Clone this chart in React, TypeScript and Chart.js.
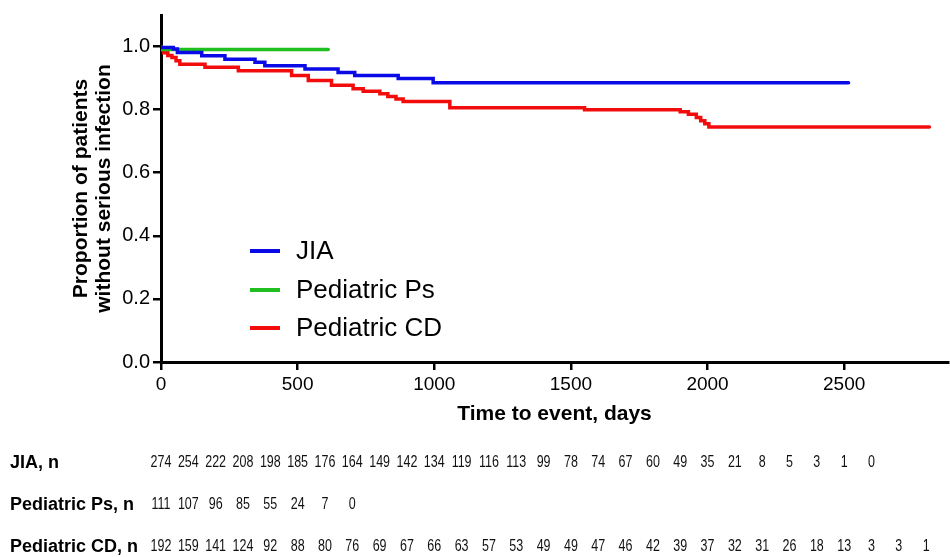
import React, { useEffect, useRef } from 'react';
import { Chart, registerables } from 'chart.js';
Chart.register(...registerables);

// Kaplan-Meier curves (days, proportion without serious infection)
const jiaDays = [0, 45, 60, 149, 234, 344, 380, 527, 648, 709, 868, 996, 1751, 2516];
const jiaSurv = [1.0, 0.997, 0.992, 0.981, 0.971, 0.96, 0.95, 0.939, 0.929, 0.918, 0.908, 0.899, 0.885, 0.885];
const psDays = [0, 15, 612];
const psSurv = [1.0, 0.991, 0.991];
const cdDays = [0, 10, 25, 40, 55, 69, 161, 283, 478, 539, 624, 703, 740, 801, 830, 860, 886, 1057, 1550, 1900, 1930, 1959, 1975, 1990, 2005, 2020, 2812];
const cdSurv = [1.0, 0.99, 0.98, 0.972, 0.965, 0.955, 0.944, 0.934, 0.923, 0.908, 0.892, 0.877, 0.866, 0.858, 0.85, 0.842, 0.834, 0.826, 0.806, 0.8, 0.793, 0.785, 0.775, 0.765, 0.755, 0.745, 0.745];

const seriesLabels = ['JIA', 'Pediatric Ps', 'Pediatric CD'];
const seriesColors = ['#0a0ae6', '#1fbf1f', '#f20c0c'];

const xTickValues = [0, 500, 1000, 1500, 2000, 2500];

// Numbers at risk every 100 days
const riskInterval = 100;
const riskLabels = ['JIA, n', 'Pediatric Ps, n', 'Pediatric CD, n'];
const jiaRisk = [274, 254, 222, 208, 198, 185, 176, 164, 149, 142, 134, 119, 116, 113, 99, 78, 74, 67, 60, 49, 35, 21, 8, 5, 3, 1, 0];
const psRisk = [111, 107, 96, 85, 55, 24, 7, 0];
const cdRisk = [192, 159, 141, 124, 92, 88, 80, 76, 69, 67, 66, 63, 57, 53, 49, 49, 47, 46, 42, 39, 37, 32, 31, 26, 18, 13, 3, 3, 1];

const xTitle = 'Time to event, days';
const yTitle = ['Proportion of patients', 'without serious infection'];

const toPts = (d: number[], s: number[]) => d.map((x, i) => ({ x, y: s[i] }));

const overlay = {
  id: 'overlay',
  afterDraw(chart: any) {
    const ctx = chart.ctx as CanvasRenderingContext2D;
    const xs = chart.scales.x;
    const ca = chart.chartArea;
    ctx.save();
    ctx.fillStyle = '#000';
    // x title
    ctx.font = 'bold 21px "Liberation Sans", Arial, sans-serif';
    ctx.textAlign = 'center';
    ctx.textBaseline = 'middle';
    ctx.fillText(xTitle, (ca.left + ca.right) / 2, 414);
    // y title
    ctx.save();
    ctx.translate(92, (ca.top + ca.bottom) / 2);
    ctx.rotate(-Math.PI / 2);
    ctx.fillText(yTitle[0], 0, -11);
    ctx.fillText(yTitle[1], 0, 12);
    ctx.restore();
    // legend
    const ds = chart.data.datasets;
    const legY = [251, 290, 328];
    ds.forEach((d: any, i: number) => {
      ctx.strokeStyle = d.borderColor;
      ctx.lineWidth = 4;
      ctx.beginPath();
      ctx.moveTo(250, legY[i]);
      ctx.lineTo(280, legY[i]);
      ctx.stroke();
      ctx.fillStyle = '#000';
      ctx.font = '26px "Liberation Sans", Arial, sans-serif';
      ctx.textAlign = 'left';
      ctx.fillText(d.label, 296, legY[i] + 1);
    });
    // risk table
    const rows = [jiaRisk, psRisk, cdRisk];
    const rowY = [463, 505, 547];
    rows.forEach((r, i) => {
      ctx.font = 'bold 18px "Liberation Sans", Arial, sans-serif';
      ctx.textAlign = 'left';
      ctx.fillStyle = '#000';
      ctx.fillText(riskLabels[i], 10, rowY[i]);
      ctx.font = '16px "Liberation Sans", Arial, sans-serif';
      ctx.textAlign = 'center';
      ctx.fillStyle = '#111';
      r.forEach((v, j) => {
        ctx.save();
        ctx.translate(xs.getPixelForValue(j * riskInterval), rowY[i]);
        ctx.scale(0.78, 1);
        ctx.fillText(String(v), 0, 0);
        ctx.restore();
      });
    });
    ctx.restore();
  },
};

export default function App() {
  const ref = useRef<HTMLCanvasElement>(null);
  useEffect(() => {
    if (!ref.current) return;
    const chart = new Chart(ref.current, {
      type: 'line',
      data: {
        datasets: [
          { label: seriesLabels[0], data: toPts(jiaDays, jiaSurv), borderColor: seriesColors[0] },
          { label: seriesLabels[1], data: toPts(psDays, psSurv), borderColor: seriesColors[1] },
          { label: seriesLabels[2], data: toPts(cdDays, cdSurv), borderColor: seriesColors[2] },
        ].map((d) => ({ ...d, stepped: 'after' as const, borderWidth: 3.5, pointRadius: 0, fill: false, borderCapStyle: 'round' as const })),
      },
      options: {
        responsive: false,
        animation: false,
        layout: { padding: { left: 0, top: 12, right: 2, bottom: 0 } },
        plugins: { legend: { display: false }, tooltip: { enabled: false } },
        scales: {
          x: {
            type: 'linear',
            min: 0,
            max: 2880,
            afterFit: (s: any) => { s.height = 195; },
            afterBuildTicks: (s: any) => { s.ticks = xTickValues.map((v) => ({ value: v })); },
            ticks: { color: '#000', font: { size: 19, family: '"Liberation Sans", Arial, sans-serif' }, padding: 3, maxRotation: 0, autoSkip: false, callback: (v: any) => String(v) },
            grid: { drawOnChartArea: false, drawTicks: true, tickLength: 8, color: '#000', lineWidth: 2.5 },
            border: { display: true, color: '#000', width: 3 },
          },
          y: {
            min: 0,
            max: 1.1,
            afterFit: (s: any) => { s.width = 161; },
            ticks: { stepSize: 0.2, includeBounds: false, color: '#000', font: { size: 20, family: '"Liberation Sans", Arial, sans-serif' }, padding: 3, callback: (v: any) => Number(v).toFixed(1) },
            grid: { drawOnChartArea: false, drawTicks: true, tickLength: 8, color: '#000', lineWidth: 2.5 },
            border: { display: true, color: '#000', width: 3 },
          },
        },
      },
      plugins: [overlay],
    });
    return () => chart.destroy();
  }, []);
  return (
    <div style={{ position: 'fixed', left: 0, top: 0, width: 950, height: 557, background: '#fff' }}>
      <canvas ref={ref} width={950} height={557} />
    </div>
  );
}
